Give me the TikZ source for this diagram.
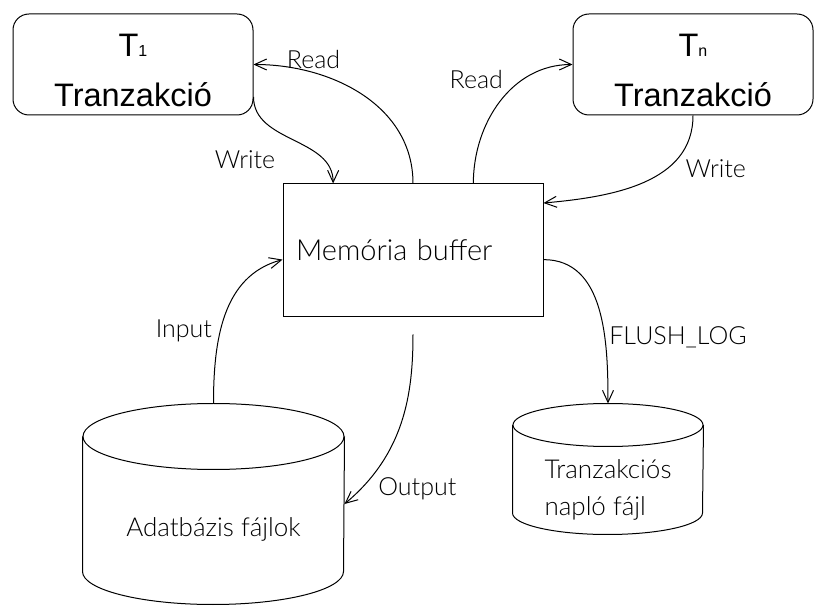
\documentclass[tikz,border=0pt]{standalone}
\usepackage{fontspec}
\setmainfont{Lato Light}
\newfontfamily\arialfont{Liberation Sans}
\usetikzlibrary{arrows.meta}

\begin{document}
\begin{tikzpicture}[x=1pt, y=1pt, node distance=560pt, line width=1pt,
  >={Straight Barb[length=12pt,width=11pt]},
  trans node/.style={rectangle, rounded corners=16pt, draw, minimum width=240pt, minimum height=101pt, align=center, font=\arialfont\fontsize{32.5}{50}\selectfont},
  buffer node/.style={rectangle, draw, minimum width=260pt, minimum height=133pt, text width=234pt, inner xsep=13pt, align=left, font=\fontsize{29}{35}\selectfont},
  file node/.style={rectangle, inner sep=0pt},
  file text/.style={align=left, font=\fontsize{26}{37}\selectfont}]
        \tikzstyle{every node}=[font=\fontsize{25}{30}\selectfont]
        \useasboundingbox (0,0) rectangle (823,-612);

          \node[trans node] (1) at (133,-64.5) {\rule{0pt}{35pt}T{\fontsize{16}{16}\selectfont 1}\\Tranzakció};
          \node[trans node] (2) [right of=1] {\rule{0pt}{35pt}T{\fontsize{16}{16}\selectfont n}\\Tranzakció};
          \node[buffer node] (3) at (413,-250.5) {Memória buffer};
          \node[file node, minimum width=261pt, minimum height=200pt, label={[file text, yshift=-25pt]center:Adatbázis fájlok}] (4) at (213.5,-504) {};
          \node[file node, minimum width=190pt, minimum height=130pt, label={[file text, yshift=-20.5pt]center:Tranzakciós\\napló fájl}] (5) at (608,-469) {};

          % cylinders
          \draw ([yshift=-33pt]4.north) ellipse [x radius=130.5pt, y radius=33pt];
          \draw ([yshift=-33pt]4.north west) -- ([yshift=33pt]4.south west) arc[start angle=180, end angle=360, x radius=130.5pt, y radius=33pt] -- ([yshift=-33pt]4.north east);
          \draw ([yshift=-21.5pt]5.north) ellipse [x radius=95pt, y radius=21.5pt];
          \draw ([yshift=-21.5pt]5.north west) -- ([yshift=21.5pt]5.south west) arc[start angle=180, end angle=360, x radius=95pt, y radius=21.5pt] -- ([yshift=-21.5pt]5.north east);

          \path[->, every node/.style={font=\fontsize{25}{30}\selectfont, inner sep=0pt}]
            (3.north) edge[out=90, in=0] node[pos=0.74, above=4pt] {Read} (1.east)
            (1.-15) edge[out=-90, in=90] node[pos=0.75, left=45pt, yshift=-3pt] {Write} (3.140)
            (3.48) edge[out=90, in=180] node[pos=0.6, above left, xshift=-8pt] {Read} (2.west)
            (2.south) edge[out=-90, in=5] node[pos=0.35, right=18pt] {Write} (3.20)
            (4.north) edge[out=90, in=195] node[pos=0.4, left=8pt] {Input} (3.184)
            (3.south) edge[out=-90, in=40, shorten <=17pt] node[pos=0.9, right=17pt] {Output} (4.east)
            (3.-4) edge[out=0, in=90] node[pos=0.66, right=4pt] {FLUSH\_LOG} (5.north);

        \end{tikzpicture}
\end{document}
